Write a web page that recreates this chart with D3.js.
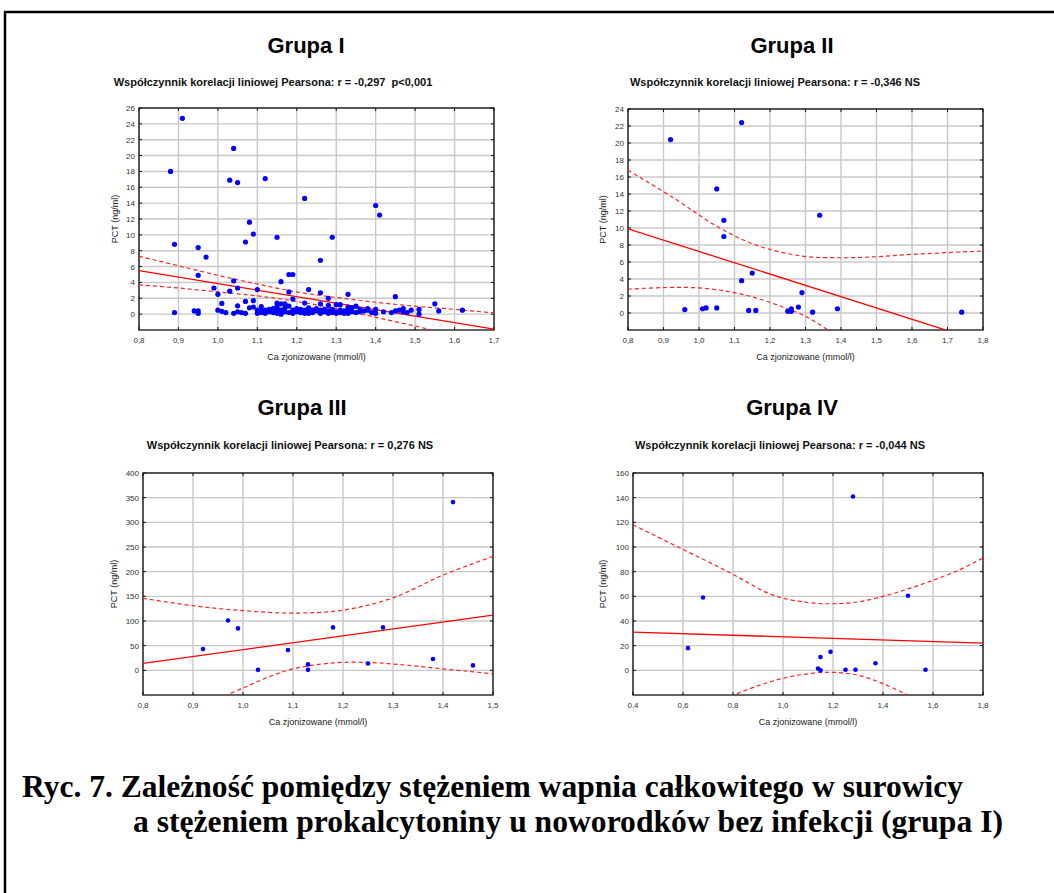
<!DOCTYPE html>
<html>
<head>
<meta charset="utf-8">
<title>Ca zjonizowane a PCT</title>
<script src="https://d3js.org/d3.v7.min.js" charset="utf-8"></script>
<style type="text/css">
body { margin: 0; background: #fff; }
svg text { font-family: Arial, "Liberation Sans", sans-serif; }
.tick-label { font-size: 8px; fill: #333; }
.axis-title { font-size: 9px; fill: #222; }
.panel-title { font-size: 22px; font-weight: bold; fill: #000; }
.panel-sub { font-size: 11px; font-weight: bold; fill: #111; white-space: pre; }
.caption { font-family: "Times New Roman", "Liberation Serif", serif !important; font-weight: bold; font-size: 31px; fill: #000; }
</style>
</head>
<body>
<script type="text/javascript">

// ---- dane ----
var titles = ["Grupa I", "Grupa II", "Grupa III", "Grupa IV"];
var subtitles = [
    "Współczynnik korelacji liniowej Pearsona: r = -0,297  p<0,001",
    "Współczynnik korelacji liniowej Pearsona: r = -0,346 NS",
    "Współczynnik korelacji liniowej Pearsona: r = 0,276 NS",
    "Współczynnik korelacji liniowej Pearsona: r = -0,044 NS"
];
var xTitle = "Ca zjonizowane (mmol/l)";
var yTitle = "PCT (ng/ml)";
var captionLines = [
    "Ryc. 7. Zależność pomiędzy stężeniem wapnia całkowitego w surowicy",
    "a stężeniem prokalcytoniny u noworodków bez infekcji (grupa I)"
];

// Grupa I
var g1XTicks = [0.8, 0.9, 1.0, 1.1, 1.2, 1.3, 1.4, 1.5, 1.6, 1.7];
var g1YTicks = [0, 2, 4, 6, 8, 10, 12, 14, 16, 18, 20, 22, 24, 26];
var g1Points = [
    [0.88,18.0],[0.91,24.7],[0.89,8.8],[0.89,0.2],[0.94,0.4],[0.95,0.4],[0.95,0.1],[0.95,8.4],[0.97,7.2],[0.95,4.9],
    [0.99,3.3],[1.00,2.5],[1.01,1.35],[1.00,0.5],[1.01,0.35],[1.02,0.2],[1.03,2.9],[1.03,16.9],[1.04,20.9],[1.05,16.6],
    [1.04,4.2],[1.05,3.3],[1.05,1.05],[1.04,0.1],[1.05,0.3],[1.06,0.2],[1.07,0.1],[1.07,9.1],[1.08,11.6],[1.09,10.1],
    [1.07,1.6],[1.08,0.8],[1.09,0.9],[1.09,1.7],[1.10,3.1],[1.12,17.1],[1.11,0.95],[1.10,0.1],[1.10,0.5],[1.11,0.2],
    [1.11,0.4],[1.12,0.5],[1.12,0.1],[1.13,0.3],[1.13,0.6],[1.14,0.2],[1.14,0.7],[1.15,9.7],[1.16,4.1],[1.15,0.1],
    [1.15,0.4],[1.15,1.4],[1.15,1.0],[1.15,0.7],[1.16,0.2],[1.16,1.3],[1.16,0.5],[1.16,0.0],[1.17,1.3],[1.17,0.3],
    [1.17,0.8],[1.18,5.0],[1.19,5.0],[1.18,2.8],[1.19,1.9],[1.18,1.0],[1.18,0.2],[1.19,0.1],[1.19,0.5],[1.20,0.3],
    [1.20,0.7],[1.21,0.6],[1.21,0.2],[1.22,14.6],[1.22,1.4],[1.22,0.5],[1.22,0.1],[1.23,3.1],[1.23,0.3],[1.23,0.8],
    [1.23,0.1],[1.24,0.5],[1.24,0.2],[1.25,0.4],[1.25,0.7],[1.26,6.8],[1.26,2.7],[1.26,1.3],[1.26,0.1],[1.26,0.5],
    [1.27,0.3],[1.27,0.6],[1.28,2.0],[1.28,1.1],[1.28,0.1],[1.28,0.4],[1.29,9.7],[1.29,0.6],[1.29,0.2],[1.30,1.2],
    [1.30,0.3],[1.30,0.1],[1.31,1.2],[1.31,0.5],[1.31,0.2],[1.32,0.1],[1.32,0.4],[1.33,2.5],[1.33,0.6],[1.33,0.1],
    [1.33,0.9],[1.34,0.3],[1.34,0.8],[1.35,0.2],[1.35,1.0],[1.36,0.3],[1.36,0.6],[1.37,0.4],[1.38,0.5],[1.38,0.7],
    [1.39,0.2],[1.40,13.7],[1.41,12.5],[1.40,0.1],[1.40,0.6],[1.42,0.3],[1.44,0.2],[1.45,2.2],[1.45,0.4],[1.46,0.5],
    [1.47,0.3],[1.47,0.7],[1.48,0.2],[1.49,0.5],[1.51,0.6],[1.51,0.0],[1.55,1.3],[1.56,0.4],[1.62,0.5]
];
var g1Fit = [[0.8, 5.5], [1.7, -1.9]];
var g1Upper = [[0.8,7.3],[0.9,6.1],[1.0,4.9],[1.1,3.8],[1.2,2.8],[1.3,2.1],[1.4,1.5],[1.5,1.0],[1.6,0.6],[1.7,0.15]];
var g1Lower = [[0.8,3.7],[0.9,3.3],[1.0,2.8],[1.1,2.3],[1.2,1.6],[1.3,0.7],[1.4,-0.4],[1.5,-1.5],[1.6,-2.7]];

// Grupa II
var g2XTicks = [0.8, 0.9, 1.0, 1.1, 1.2, 1.3, 1.4, 1.5, 1.6, 1.7, 1.8];
var g2YTicks = [0, 2, 4, 6, 8, 10, 12, 14, 16, 18, 20, 22, 24];
var g2Points = [
    [0.92,20.4],[0.96,0.4],[1.01,0.5],[1.02,0.6],[1.05,0.6],[1.05,14.6],[1.07,10.9],[1.07,9.0],
    [1.12,22.4],[1.12,3.8],[1.15,4.7],[1.14,0.3],[1.16,0.3],[1.25,0.2],[1.26,0.2],[1.26,0.5],
    [1.28,0.7],[1.29,2.4],[1.32,0.1],[1.34,11.5],[1.39,0.5],[1.74,0.1]
];
var g2Fit = [[0.8, 9.9], [1.8, -3.4]];
var g2Upper = [[0.8,16.8],[0.93,13.5],[1.05,10.2],[1.16,8.0],[1.29,6.7],[1.4,6.5],[1.49,6.6],[1.58,6.85],[1.8,7.3]];
var g2Lower = [[0.8,2.8],[0.91,3.0],[1.0,2.95],[1.08,2.55],[1.15,1.9],[1.23,0.8],[1.3,-0.4],[1.36,-1.9],[1.38,-2.5]];

// Grupa III
var g3XTicks = [0.8, 0.9, 1.0, 1.1, 1.2, 1.3, 1.4, 1.5];
var g3YTicks = [0, 50, 100, 150, 200, 250, 300, 350, 400];
var g3Points = [
    [0.92,43],[0.97,101],[0.99,85],[1.03,1],[1.09,41],[1.13,12],[1.13,1],
    [1.18,87],[1.25,14],[1.28,87],[1.38,23],[1.42,341],[1.46,10]
];
var g3Fit = [[0.8, 14], [1.5, 112]];
var g3Upper = [[0.8,146],[0.9,131],[1.0,121],[1.1,116],[1.2,122],[1.3,147],[1.4,193],[1.5,231]];
var g3Lower = [[0.95,-58],[1.0,-36],[1.05,-14],[1.1,3],[1.18,15],[1.25,16],[1.31,12],[1.38,5],[1.45,-2],[1.5,-7]];

// Grupa IV
var g4XTicks = [0.4, 0.6, 0.8, 1.0, 1.2, 1.4, 1.6, 1.8];
var g4YTicks = [0, 20, 40, 60, 80, 100, 120, 140, 160];
var g4Points = [
    [0.62,18],[0.68,59],[1.14,1.5],[1.15,0],[1.15,10.8],[1.19,15],[1.25,0.5],
    [1.28,141],[1.29,0.5],[1.37,5.7],[1.50,60.5],[1.57,0.5]
];
var g4Fit = [[0.4, 31], [1.8, 22]];
var g4Upper = [[0.4,118],[0.58,100],[0.78,80],[0.96,61],[1.1,55],[1.2,54],[1.3,55.5],[1.4,60],[1.5,66],[1.6,73],[1.7,81],[1.8,91]];
var g4Lower = [[0.79,-21],[0.9,-12.5],[1.0,-6.5],[1.1,-2.8],[1.2,-1.6],[1.3,-4],[1.4,-10.8],[1.51,-21]];

// ---- rozmieszczenie paneli ----
var panels = [
    { title: titles[0], sub: subtitles[0], pts: g1Points, fit: g1Fit, up: g1Upper, lo: g1Lower,
      xDom: [0.8, 1.7], yDom: [-2, 26], xTicks: g1XTicks, yTicks: g1YTicks, xFmt: ".1f",
      l: 139, r: 494, t: 108, b: 330, titleX: 306, titleY: 53, subX: 273, subY: 86, yLabX: 115, r0: 2.6 },
    { title: titles[1], sub: subtitles[1], pts: g2Points, fit: g2Fit, up: g2Upper, lo: g2Lower,
      xDom: [0.8, 1.8], yDom: [-2, 24], xTicks: g2XTicks, yTicks: g2YTicks, xFmt: ".1f",
      l: 628, r: 983, t: 109, b: 330, titleX: 792, titleY: 53, subX: 775, subY: 86, yLabX: 603, r0: 2.6 },
    { title: titles[2], sub: subtitles[2], pts: g3Points, fit: g3Fit, up: g3Upper, lo: g3Lower,
      xDom: [0.8, 1.5], yDom: [-50, 400], xTicks: g3XTicks, yTicks: g3YTicks, xFmt: ".1f",
      l: 143, r: 493, t: 473, b: 695, titleX: 302, titleY: 415, subX: 290, subY: 449, yLabX: 114, r0: 2.3 },
    { title: titles[3], sub: subtitles[3], pts: g4Points, fit: g4Fit, up: g4Upper, lo: g4Lower,
      xDom: [0.4, 1.8], yDom: [-20, 160], xTicks: g4XTicks, yTicks: g4YTicks, xFmt: ".1f",
      l: 633, r: 983, t: 473, b: 695, titleX: 792, titleY: 415, subX: 780, subY: 449, yLabX: 603, r0: 2.3 }
];

var W = 1054, H = 893;
var pl = d3.formatLocale({ decimal: ",", thousands: " ", grouping: [3], currency: ["", ""] });

var svg = d3.select("body")
    .append("svg")
    .attr("width", W)
    .attr("height", H);

svg.append("rect").attr("width", W).attr("height", H).attr("fill", "#fff");

// ramka strony (góra i lewa krawędź)
svg.append("path")
    .attr("d", "M5," + H + "V12H" + W)
    .attr("fill", "none")
    .attr("stroke", "#000")
    .attr("stroke-width", 2.5);

panels.forEach(function(p, i) {
    var x = d3.scaleLinear().domain(p.xDom).range([p.l, p.r]);
    var y = d3.scaleLinear().domain(p.yDom).range([p.b, p.t]);
    var g = svg.append("g").attr("class", "panel");

    g.append("clipPath").attr("id", "clip" + i)
        .append("rect")
        .attr("x", p.l).attr("y", p.t)
        .attr("width", p.r - p.l).attr("height", p.b - p.t);

    // siatka
    g.selectAll(".gx").data(p.xTicks).enter().append("line")
        .attr("x1", function(d) { return x(d); }).attr("x2", function(d) { return x(d); })
        .attr("y1", p.t).attr("y2", p.b)
        .attr("stroke", "#c8c8c8").attr("stroke-width", 1.4);
    g.selectAll(".gy").data(p.yTicks).enter().append("line")
        .attr("x1", p.l).attr("x2", p.r)
        .attr("y1", function(d) { return y(d); }).attr("y2", function(d) { return y(d); })
        .attr("stroke", "#c8c8c8").attr("stroke-width", 1.4);

    // ramka wykresu
    g.append("rect")
        .attr("x", p.l).attr("y", p.t)
        .attr("width", p.r - p.l).attr("height", p.b - p.t)
        .attr("fill", "none").attr("stroke", "#111").attr("stroke-width", 1.3);

    // kreski podziałki do środka
    var tk = 3;
    g.selectAll(".tt").data(p.xTicks).enter().append("path")
        .attr("d", function(d) { return "M" + x(d) + "," + p.t + "v" + tk + "M" + x(d) + "," + p.b + "v" + (-tk); })
        .attr("stroke", "#111").attr("stroke-width", 1);
    g.selectAll(".ty").data(p.yTicks).enter().append("path")
        .attr("d", function(d) { return "M" + p.l + "," + y(d) + "h" + tk + "M" + p.r + "," + y(d) + "h" + (-tk); })
        .attr("stroke", "#111").attr("stroke-width", 1);

    // etykiety osi
    g.selectAll(".xl").data(p.xTicks).enter().append("text")
        .attr("class", "tick-label")
        .attr("x", function(d) { return x(d); })
        .attr("y", p.b + 13)
        .attr("text-anchor", "middle")
        .text(function(d) { return pl.format(p.xFmt)(d); });
    g.selectAll(".yl").data(p.yTicks).enter().append("text")
        .attr("class", "tick-label")
        .attr("x", p.l - 4)
        .attr("y", function(d) { return y(d) + 3; })
        .attr("text-anchor", "end")
        .text(function(d) { return d; });

    g.append("text").attr("class", "axis-title")
        .attr("x", (p.l + p.r) / 2).attr("y", p.b + 30)
        .attr("text-anchor", "middle")
        .text(xTitle);
    g.append("text").attr("class", "axis-title")
        .attr("transform", "translate(" + (p.yLabX + 3) + "," + ((p.t + p.b) / 2) + ") rotate(-90)")
        .attr("text-anchor", "middle")
        .text(yTitle);

    // tytuły
    g.append("text").attr("class", "panel-title")
        .attr("x", p.titleX).attr("y", p.titleY)
        .attr("text-anchor", "middle")
        .text(p.title);
    g.append("text").attr("class", "panel-sub")
        .attr("x", p.subX).attr("y", p.subY)
        .attr("text-anchor", "middle")
        .attr("xml:space", "preserve")
        .text(p.sub);

    // regresja + przedziały ufności
    var line = d3.line()
        .x(function(d) { return x(d[0]); })
        .y(function(d) { return y(d[1]); });
    var curve = d3.line()
        .x(function(d) { return x(d[0]); })
        .y(function(d) { return y(d[1]); })
        .curve(d3.curveCatmullRom);

    var lines = g.append("g").attr("clip-path", "url(#clip" + i + ")");
    [p.up, p.lo].forEach(function(band) {
        lines.append("path")
            .attr("d", curve(band))
            .attr("fill", "none")
            .attr("stroke", "#ff2020")
            .attr("stroke-width", 1.2)
            .attr("stroke-dasharray", "4,3");
    });
    lines.append("path")
        .attr("d", line(p.fit))
        .attr("fill", "none")
        .attr("stroke", "#ff0000")
        .attr("stroke-width", 1.3);

    // punkty
    g.selectAll(".pt").data(p.pts).enter().append("circle")
        .attr("cx", function(d) { return x(d[0]); })
        .attr("cy", function(d) { return y(d[1]); })
        .attr("r", p.r0)
        .attr("fill", "#0000ff");
});

// podpis ryciny
svg.append("text").attr("class", "caption")
    .attr("x", 22).attr("y", 797)
    .attr("textLength", 941).attr("lengthAdjust", "spacingAndGlyphs")
    .text(captionLines[0]);
svg.append("text").attr("class", "caption")
    .attr("x", 133).attr("y", 832)
    .attr("textLength", 870).attr("lengthAdjust", "spacingAndGlyphs")
    .text(captionLines[1]);

</script>
</body>
</html>
